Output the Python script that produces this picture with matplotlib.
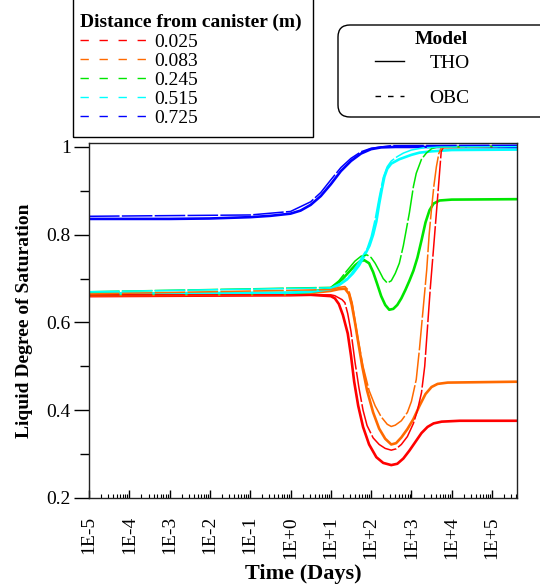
import numpy as np
import matplotlib
matplotlib.use('Agg')
import matplotlib.pyplot as plt
from matplotlib.lines import Line2D
from matplotlib.patches import Rectangle, FancyBboxPatch
from matplotlib.transforms import IdentityTransform
from matplotlib.ticker import FixedLocator, LogLocator, NullFormatter

plt.rcParams['font.family'] = ['Liberation Serif', 'DejaVu Serif']

# distances from canister and their colours
distances = ['0.025', '0.083', '0.245', '0.515', '0.725']
colors = ['#ff0000', '#ff6a00', '#00e600', '#00ffff', '#0000ff']

# curves as (log10 of time in days, liquid saturation)
# THO model (solid)
red_tho_lt = [-5, 0, 0.5, 1.0, 1.1, 1.2, 1.3, 1.42, 1.5, 1.58, 1.68, 1.8, 1.95, 2.13, 2.3, 2.5, 2.65, 2.8,
              2.95, 3.1, 3.25, 3.4, 3.55, 3.75, 4.2, 5.62]
red_tho_s = [0.660, 0.662, 0.663, 0.660, 0.655, 0.642, 0.617, 0.575, 0.525, 0.465, 0.410, 0.362, 0.322, 0.293,
             0.280, 0.275, 0.278, 0.290, 0.308, 0.328, 0.348, 0.362, 0.370, 0.374, 0.376, 0.376]
orange_tho_lt = [-5, 0, 0.5, 1.0, 1.2, 1.35, 1.45, 1.52, 1.6, 1.68, 1.78, 1.9, 2.05, 2.2, 2.35, 2.5, 2.62,
                 2.75, 2.9, 3.05, 3.2, 3.35, 3.5, 3.65, 3.9, 5.62]
orange_tho_s = [0.662, 0.664, 0.667, 0.672, 0.676, 0.677, 0.665, 0.640, 0.600, 0.555, 0.500, 0.445, 0.395,
                0.358, 0.335, 0.322, 0.325, 0.338, 0.357, 0.380, 0.410, 0.437, 0.453, 0.460, 0.463, 0.465]
green_tho_lt = [-5, 0, 0.5, 1.0, 1.15, 1.3, 1.45, 1.6, 1.72, 1.83, 1.95, 2.05, 2.15, 2.25, 2.35, 2.45, 2.55,
                2.65, 2.75, 2.85, 2.95, 3.05, 3.15, 3.25, 3.35, 3.45, 3.55, 3.7, 4.0, 5.62]
green_tho_s = [0.665, 0.667, 0.670, 0.678, 0.688, 0.700, 0.715, 0.730, 0.739, 0.742, 0.735, 0.715, 0.688,
               0.660, 0.640, 0.629, 0.631, 0.640, 0.655, 0.674, 0.695, 0.718, 0.748, 0.787, 0.828, 0.856,
               0.871, 0.878, 0.880, 0.881]
cyan_tho_lt = [-5, 0, 0.5, 1.0, 1.2, 1.4, 1.55, 1.7, 1.85, 1.96, 2.05, 2.13, 2.2, 2.27, 2.33, 2.4, 2.5, 2.7,
               3.0, 3.2, 3.5, 4.0, 5.62]
cyan_tho_s = [0.666, 0.668, 0.670, 0.676, 0.685, 0.698, 0.712, 0.730, 0.755, 0.775, 0.800, 0.830, 0.870,
              0.905, 0.932, 0.950, 0.962, 0.972, 0.982, 0.987, 0.990, 0.993, 0.994]
blue_tho_lt = [-5, -3, -2, -1, -0.5, 0, 0.25, 0.5, 0.75, 1.0, 1.25, 1.5, 1.75, 2.0, 2.25, 2.6, 5.62]
blue_tho_s = [0.836, 0.836, 0.837, 0.840, 0.843, 0.848, 0.855, 0.868, 0.888, 0.915, 0.945, 0.968, 0.985,
              0.995, 0.999, 1.000, 1.000]

# OBC model (dashed)
red_obc_lt = [-5, 1.0, 1.1, 1.2, 1.28, 1.35, 1.42, 1.5, 1.6, 1.7, 1.8, 1.9, 2.05, 2.2, 2.35, 2.5, 2.62, 2.75,
              2.9, 3.05, 3.15, 3.25, 3.33, 3.4, 3.47, 3.55, 3.62, 3.68, 3.74, 3.8, 5.62]
red_obc_s = [0.663, 0.663, 0.661, 0.656, 0.652, 0.645, 0.620, 0.580, 0.510, 0.450, 0.400, 0.365, 0.337,
             0.322, 0.313, 0.309, 0.312, 0.322, 0.340, 0.370, 0.400, 0.440, 0.500, 0.590, 0.680, 0.770,
             0.850, 0.920, 0.990, 1.000, 1.002]
orange_obc_lt = [-5, 1.0, 1.2, 1.35, 1.45, 1.53, 1.6, 1.68, 1.8, 1.95, 2.1, 2.25, 2.4, 2.5, 2.6, 2.75, 2.9,
                 3.0, 3.12, 3.2, 3.3, 3.38, 3.44, 3.5, 3.56, 3.62, 3.68, 3.74, 5.62]
orange_obc_s = [0.665, 0.675, 0.680, 0.682, 0.672, 0.645, 0.605, 0.560, 0.500, 0.445, 0.410, 0.385, 0.368,
                0.363, 0.366, 0.376, 0.395, 0.420, 0.470, 0.540, 0.640, 0.720, 0.800, 0.860, 0.913, 0.955,
                0.985, 0.998, 1.002]
green_obc_lt = [-5, 1.0, 1.2, 1.4, 1.6, 1.75, 1.9, 2.0, 2.1, 2.2, 2.3, 2.4, 2.5, 2.6, 2.7, 2.8, 2.9, 2.95,
                3.05, 3.12, 3.25, 3.37, 3.5, 3.65, 5.62]
green_obc_s = [0.670, 0.680, 0.695, 0.718, 0.740, 0.751, 0.754, 0.748, 0.735, 0.718, 0.700, 0.690, 0.695,
               0.712, 0.735, 0.775, 0.825, 0.850, 0.910, 0.940, 0.972, 0.986, 0.996, 1.000, 1.002]
cyan_obc_lt = [-5, 1.0, 1.3, 1.5, 1.7, 1.9, 2.0, 2.1, 2.2, 2.3, 2.4, 2.5, 2.65, 2.8, 3.0, 3.3, 3.7, 5.62]
cyan_obc_s = [0.670, 0.679, 0.692, 0.710, 0.738, 0.768, 0.795, 0.835, 0.885, 0.930, 0.955, 0.968, 0.978,
              0.986, 0.993, 0.998, 1.000, 1.001]
blue_obc_lt = [-5, -1, 0, 0.5, 0.75, 1.0, 1.25, 1.5, 1.75, 2.0, 2.5, 5.62]
blue_obc_s = [0.842, 0.845, 0.853, 0.875, 0.896, 0.925, 0.953, 0.974, 0.989, 0.997, 1.003, 1.004]

tho = [(red_tho_lt, red_tho_s), (orange_tho_lt, orange_tho_s), (green_tho_lt, green_tho_s),
       (cyan_tho_lt, cyan_tho_s), (blue_tho_lt, blue_tho_s)]
obc = [(red_obc_lt, red_obc_s), (orange_obc_lt, orange_obc_s), (green_obc_lt, green_obc_s),
       (cyan_obc_lt, cyan_obc_s), (blue_obc_lt, blue_obc_s)]

xtick_labels = ['1E-5', '1E-4', '1E-3', '1E-2', '1E-1', '1E+0', '1E+1', '1E+2', '1E+3', '1E+4', '1E+5']

fig = plt.figure(figsize=(5.4, 5.85), dpi=100)
ax = fig.add_axes([89/540, 1 - 498/585, (517-89)/540, (498-143)/585])

for (lt, s), c in zip(tho, colors):
    ax.plot(10.0**np.array(lt), s, color=c, lw=1.9, solid_capstyle='butt')
for (lt, s), c in zip(obc, colors):
    ax.plot(10.0**np.array(lt), s, color=c, lw=1.1, linestyle=(0, (20, 1.5)))

ax.set_xscale('log')
ax.set_xlim(1e-5, 10**5.62)
ax.set_ylim(0.2, 1.009)

ax.xaxis.set_major_locator(FixedLocator([10.0**k for k in range(-5, 6)]))
ax.set_xticklabels(xtick_labels, rotation=90, fontsize=14)
ax.xaxis.set_minor_locator(LogLocator(base=10, subs=np.arange(2, 10), numticks=30))
ax.xaxis.set_minor_formatter(NullFormatter())
ax.tick_params(axis='x', which='major', direction='in', length=6, width=1, pad=13)
ax.tick_params(axis='x', which='minor', direction='in', length=3, width=0.8)

ax.set_yticks([0.2, 0.4, 0.6, 0.8, 1.0])
ax.set_yticklabels(['0.2', '0.4', '0.6', '0.8', '1'], fontsize=14)
ax.set_yticks([0.3, 0.5, 0.7, 0.9], minor=True)
ax.tick_params(axis='y', which='major', direction='out', length=11, width=1, pad=2)
ax.tick_params(axis='y', which='minor', direction='out', length=6.5, width=1)

for sp in ax.spines.values():
    sp.set_linewidth(1.0)
    sp.set_color('#222222')

ax.set_xlabel('Time (Days)', fontsize=16, fontweight='bold', labelpad=4)
ax.set_ylabel('Liquid Degree of Saturation', fontsize=14, fontweight='bold', labelpad=10)

# legend for distances (box runs off the top of the figure)
dist_handles = [Line2D([], [], color=c, lw=1.0, linestyle=(0, (6, 7.7))) for c in colors]
leg1 = fig.legend(dist_handles, distances, loc='lower left',
                  bbox_to_anchor=(73/540, 1 - 134/585), fontsize=14,
                  title='Distance from canister (m)',
                  title_fontproperties={'weight': 'bold', 'size': 14},
                  alignment='left', frameon=False, handlelength=3.4,
                  handletextpad=0.45, labelspacing=0.08, borderpad=0.35,
                  borderaxespad=0)
fig.add_artist(Rectangle((73, 585 - 137), 313 - 73, 150, transform=IdentityTransform(),
                         fill=False, edgecolor='black', lw=1.0))

# legend for model (rounded box runs off the right edge)
model_handles = [Line2D([], [], color='black', lw=1.0),
                 Line2D([], [], color='black', lw=1.0, linestyle=(0, (4, 5)))]
leg2 = fig.legend(model_handles, ['THO', 'OBC'], loc='upper left',
                  bbox_to_anchor=(375/540, 1 - 54/585), fontsize=14,
                  frameon=False, handlelength=1.5, handletextpad=1.3,
                  labelspacing=0.9, borderpad=0, borderaxespad=0)
fig.add_artist(FancyBboxPatch((338, 585 - 117), 230, 92, transform=IdentityTransform(),
                              boxstyle='round,pad=0,rounding_size=12', fill=False,
                              edgecolor='black', lw=1.0))
fig.text(441/540, 1 - 40/585, 'Model', ha='center', va='center', fontsize=14, fontweight='bold')

fig.savefig('out.png', dpi=100)
